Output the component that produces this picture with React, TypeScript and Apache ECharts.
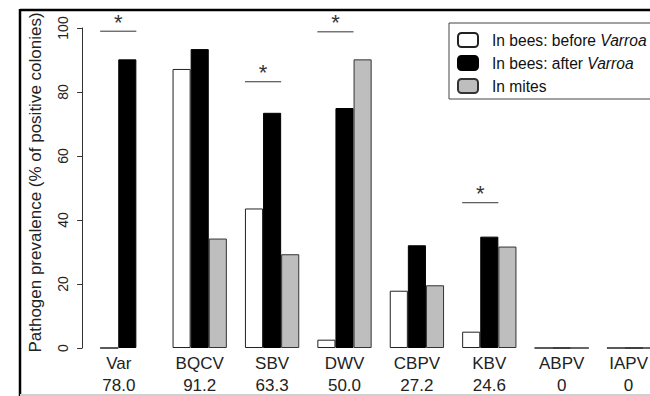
import React, { useEffect, useRef } from "react";
import * as echarts from "echarts";

const categories = ["Var", "BQCV", "SBV", "DWV", "CBPV", "KBV", "ABPV", "IAPV"];
const prevalenceLabels = ["78.0", "91.2", "63.3", "50.0", "27.2", "24.6", "0", "0"];
const beforeVarroa = [0, 87.2, 43.6, 2.6, 17.9, 5.1, 0, 0];
const afterVarroa = [90.2, 93.4, 73.5, 75.0, 32.1, 34.8, 0, 0];
const inMites: (number | null)[] = [null, 34.2, 29.3, 90.2, 19.6, 31.7, 0, 0];
const yTicks = [0, 20, 40, 60, 80, 100];
const sigCategoryIndex = [0, 2, 3, 5];
const sigLevel = [99.0, 83.2, 98.8, 45.4];

const seriesNames = ["In bees: before Varroa", "In bees: after Varroa", "In mites"];

const CHART_W = 690;

export default function App() {
  const ref = useRef<HTMLDivElement>(null);
  useEffect(() => {
    if (!ref.current) return;
    const chart = echarts.init(ref.current, undefined, { renderer: "svg" });
    const font = "Liberation Sans, Arial, sans-serif";
    const barCommon = {
      type: "bar" as const,
      barGap: "0%",
      barCategoryGap: "25%",
    };
    const lastIdx = categories.length - 1;
    chart.setOption({
      animation: false,
      backgroundColor: "#ffffff",
      textStyle: { fontFamily: font },
      grid: { left: 91.1, right: CHART_W - 670.3, top: 28, bottom: 47 },
      legend: {
        data: seriesNames,
        orient: "vertical",
        left: 449,
        top: 23,
        selectedMode: false,
        itemWidth: 20,
        itemHeight: 14,
        itemGap: 7,
        padding: [9, 8, 5, 8],
        borderColor: "#444",
        borderWidth: 1,
        formatter: (name: string) => name.replace("Varroa", "{i|Varroa}"),
        textStyle: {
          fontFamily: font,
          fontSize: 15.6,
          color: "#111",
          lineHeight: 16,
          padding: [0, 0, 0, 9],
          rich: {
            i: { fontStyle: "italic", fontSize: 15.6, fontFamily: font, color: "#111" },
          },
        },
      },
      xAxis: {
        type: "category",
        data: categories,
        axisLine: { show: false },
        axisTick: { show: false },
        axisLabel: {
          interval: 0,
          margin: 4,
          fontFamily: font,
          fontSize: 17,
          lineHeight: 22,
          color: "#222",
          formatter: (v: string, i: number) =>
            i === 0
              ? `{v|${v}}\n{v|${prevalenceLabels[i]}}`
              : i === lastIdx
              ? `{w|${v}}\n{w|${prevalenceLabels[i]}}`
              : `${v}\n${prevalenceLabels[i]}`,
          rich: {
            v: { fontSize: 17, lineHeight: 22, fontFamily: font, color: "#222", padding: [0, 17, 0, 0] },
            w: { fontSize: 17, lineHeight: 22, fontFamily: font, color: "#222", padding: [0, 11, 0, 0] },
          },
        },
      },
      yAxis: {
        type: "value",
        min: 0,
        max: 100,
        interval: 20,
        offset: 9,
        splitLine: { show: false },
        axisLine: { show: true, lineStyle: { color: "#333", width: 1 } },
        axisTick: { show: true, length: 5, lineStyle: { color: "#333" } },
        axisLabel: {
          rotate: 90,
          margin: 12,
          fontFamily: font,
          fontSize: 14,
          color: "#222",
          formatter: (v: number) => (yTicks.includes(v) ? String(v) : ""),
        },
      },
      series: [
        {
          ...barCommon,
          name: seriesNames[0],
          data: beforeVarroa,
          itemStyle: { color: "#ffffff", borderColor: "#222", borderWidth: 1 },
        },
        {
          ...barCommon,
          name: seriesNames[1],
          data: afterVarroa,
          itemStyle: { color: "#000000", borderColor: "#000", borderWidth: 1 },
        },
        {
          ...barCommon,
          name: seriesNames[2],
          data: inMites,
          itemStyle: { color: "#bebebe", borderColor: "#333", borderWidth: 1 },
        },
        {
          type: "custom",
          name: "sig",
          data: sigCategoryIndex.map((c, i) => [c, sigLevel[i]]),
          encode: { x: 0, y: 1 },
          renderItem: (params: any, api: any) => {
            const c = api.coord([api.value(0), api.value(1)]);
            const band = api.size([1, 0])[0];
            const barW = (band * 0.75) / 3;
            const left = c[0] - 1.5 * barW;
            const right = c[0] + 0.5 * barW;
            return {
              type: "group",
              children: [
                {
                  type: "line",
                  shape: { x1: left, y1: c[1], x2: right, y2: c[1] },
                  style: { stroke: "#333", lineWidth: 1 },
                },
                {
                  type: "text",
                  x: (left + right) / 2,
                  y: c[1] - 9,
                  style: {
                    text: "*",
                    fontSize: 22,
                    fontFamily: font,
                    fill: "#333",
                    align: "center",
                    verticalAlign: "middle",
                  },
                },
              ],
            };
          },
        },
      ],
      graphic: [
        {
          type: "text",
          x: 35,
          y: 182.5,
          rotation: Math.PI / 2,
          style: {
            text: "Pathogen prevalence (% of positive colonies)",
            fontSize: 17,
            fontFamily: font,
            fill: "#222",
            align: "center",
            verticalAlign: "middle",
          },
        },
        {
          type: "line",
          shape: { x1: 20, y1: 10, x2: CHART_W, y2: 10 },
          style: { stroke: "#000", lineWidth: 2.5 },
        },
        {
          type: "line",
          shape: { x1: 20, y1: 9, x2: 20, y2: 396 },
          style: { stroke: "#000", lineWidth: 2.5 },
        },
        {
          type: "line",
          shape: { x1: 20, y1: 395, x2: CHART_W, y2: 395 },
          style: { stroke: "#cfcfcf", lineWidth: 2 },
        },
      ],
    });
    return () => chart.dispose();
  }, []);
  return (
    <div style={{ position: "fixed", left: 0, top: 0, width: 650, height: 396, overflow: "hidden", background: "#fff" }}>
      <div ref={ref} style={{ width: CHART_W, height: 396 }} />
    </div>
  );
}
